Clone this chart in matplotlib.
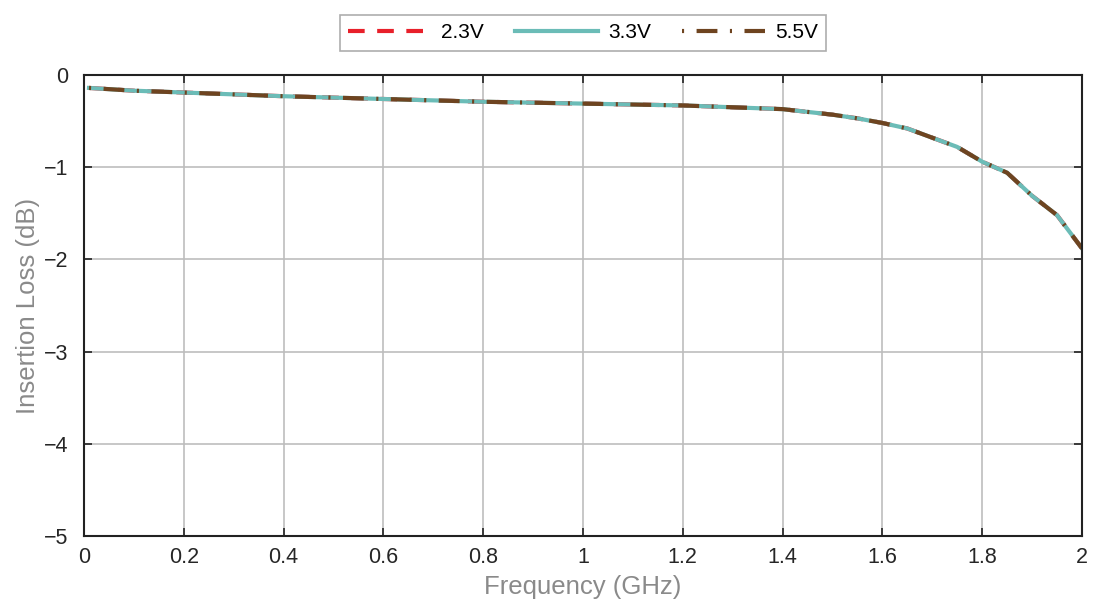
"""Insertion loss vs frequency at three supply voltages."""

import matplotlib
matplotlib.use("Agg")
import matplotlib.pyplot as plt
import numpy as np

plt.rcParams["font.family"] = ["Liberation Sans", "DejaVu Sans"]

# frequency points (GHz)
freq = [0.01, 0.1, 0.2, 0.3, 0.4, 0.5, 0.6, 0.7, 0.8, 0.9, 1.0, 1.1, 1.2,
        1.25, 1.3, 1.35, 1.4, 1.45, 1.5, 1.55, 1.6, 1.65, 1.7, 1.75, 1.8,
        1.85, 1.9, 1.95, 2.0]
loss_23 = [-0.14, -0.17, -0.19, -0.21, -0.23, -0.245, -0.26, -0.275, -0.29,
           -0.30, -0.31, -0.32, -0.33, -0.34, -0.35, -0.36, -0.37, -0.40,
           -0.43, -0.47, -0.52, -0.58, -0.68, -0.78, -0.94, -1.06, -1.31,
           -1.52, -1.88]
loss_33 = list(loss_23)
loss_55 = list(loss_23)

series = [
    ("2.3V", loss_23, "#e8202a", (0, (4, 3))),
    ("3.3V", loss_33, "#6bbcb7", "-"),
    ("5.5V", loss_55, "#6e4420", (0, (0.5, 3, 5, 3))),
]

fig = plt.figure(figsize=(10.94, 6.05), dpi=100)
ax = fig.add_axes([0.0768, 0.114, 0.9122, 0.762])

for label, vals, color, ls in series:
    ax.plot(freq, vals, color=color, linestyle=ls, linewidth=3, label=label)

ax.set_xlim(0, 2)
ax.set_ylim(-5, 0)
ax.set_xticks(np.arange(0, 2.01, 0.2))
ax.set_xticklabels(["0", "0.2", "0.4", "0.6", "0.8", "1", "1.2", "1.4",
                    "1.6", "1.8", "2"])
ax.set_yticks(range(-5, 1))
ax.set_yticklabels(["\u22125", "\u22124", "\u22123", "\u22122", "\u22121", "0"])
ax.tick_params(direction="in", top=True, right=True, length=6, width=1.2,
               labelsize=15.5, color="#222222", labelcolor="#262626")
ax.tick_params(axis="x", pad=8)
ax.tick_params(axis="y", pad=11)
ax.grid(color="#bdbdbd", linewidth=1.2)
ax.set_axisbelow(True)
for sp in ax.spines.values():
    sp.set_linewidth(1.5)
    sp.set_color("#222222")

ax.set_xlabel("Frequency (GHz)", fontsize=18.5, color="#8a8a8a", labelpad=5)
ax.set_ylabel("Insertion Loss (dB)", fontsize=18.5, color="#8a8a8a", labelpad=3)

leg = ax.legend(loc="lower center", bbox_to_anchor=(0.5, 1.03), ncol=3,
                fontsize=15, frameon=True, fancybox=False, handlelength=4.0,
                handletextpad=0.45, columnspacing=1.5, borderpad=0.4)
leg.get_frame().set_edgecolor("#999999")
leg.get_frame().set_linewidth(1.2)

fig.savefig("out.png", dpi=100)
